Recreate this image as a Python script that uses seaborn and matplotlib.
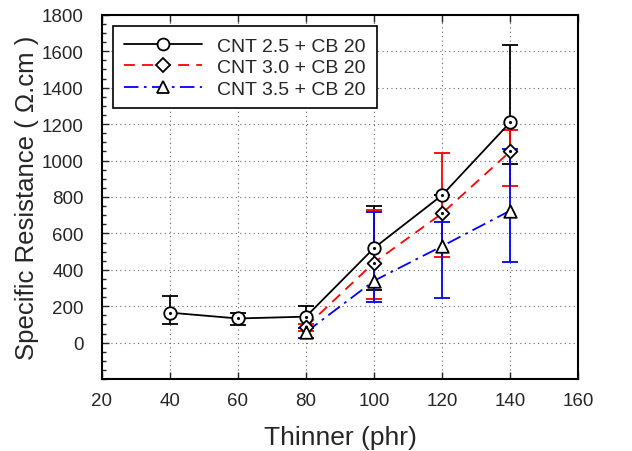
import numpy as np
import pandas as pd
import seaborn as sns
import matplotlib.pyplot as plt
from matplotlib.lines import Line2D
from matplotlib.ticker import MultipleLocator

# values
labels = ["CNT 2.5 + CB 20", "CNT 3.0 + CB 20", "CNT 3.5 + CB 20"]
x_25 = [40, 60, 80, 100, 120, 140]
y_25 = [165, 133, 143, 520, 810, 1210]
lo_25 = [60, 35, 60, 230, 0, 227]
hi_25 = [90, 32, 60, 230, 0, 425]

x_30 = [80, 100, 120, 140]
y_30 = [88, 440, 710, 1050]
lo_30 = [25, 200, 240, 188]
hi_30 = [15, 290, 334, 116]

x_35 = [80, 100, 120, 140]
y_35 = [58, 340, 530, 725]
lo_35 = [30, 114, 287, 283]
hi_35 = [25, 380, 133, 341]

colors = ["black", "red", "blue"]
dashes = ["-", (0, (6, 4)), (0, (8, 3, 1.5, 3))]
markers = ["o", "D", "^"]
msizes = [9, 7, 9]

sns.set_style("ticks")
plt.rcParams['font.family'] = ['Liberation Sans', 'DejaVu Sans']

fig = plt.figure(figsize=(6.32, 4.52), dpi=100)
ax = fig.add_axes([0.161, 0.159, 0.754, 0.806])

series = [(x_25, y_25, lo_25, hi_25), (x_30, y_30, lo_30, hi_30), (x_35, y_35, lo_35, hi_35)]
handles = []
for i, (xs, ys, lo, hi) in enumerate(series):
    df = pd.DataFrame({"x": xs, "y": ys})
    ax.errorbar(df["x"], df["y"], yerr=[lo, hi], fmt="none", ecolor=colors[i],
                elinewidth=1.3, capsize=6, capthick=1.3, zorder=2)
    sns.lineplot(data=df, x="x", y="y", ax=ax, color=colors[i], linestyle=dashes[i],
                 linewidth=1.3, zorder=3, legend=False)
    sns.scatterplot(data=df, x="x", y="y", ax=ax, marker=markers[i], s=msizes[i] ** 2,
                    facecolor="white", edgecolor="black", linewidth=1.3, zorder=4, legend=False)
    if markers[i] != "^":
        ax.plot(df["x"], df["y"], ".", color="black", markersize=2.5, zorder=5)
    handles.append(Line2D([], [], color=colors[i], linestyle=dashes[i], linewidth=1.3,
                          marker=markers[i], markersize=msizes[i] * 0.95,
                          markerfacecolor="white", markeredgecolor="black", markeredgewidth=1.3))

ax.set_xlim(20, 160)
ax.set_ylim(-200, 1800)
ax.xaxis.set_major_locator(MultipleLocator(20))
ax.yaxis.set_minor_locator(MultipleLocator(50))
ax.set_yticks([0, 200, 400, 600, 800, 1000, 1200, 1400, 1600, 1800])
ax.grid(True, which="major", linestyle=(0, (1, 3)), color="#666666", linewidth=0.8)
ax.tick_params(axis="both", which="major", direction="in", length=5, width=1, labelsize=13.5,
               top=True, right=False)
ax.tick_params(axis="x", which="major", pad=9)
ax.tick_params(axis="y", which="major", pad=13)
ax.tick_params(axis="y", which="minor", direction="in", length=3, width=1, left=True, right=False)
for sp in ax.spines.values():
    sp.set_linewidth(1.5)
    sp.set_color("black")

ax.set_xlabel("Thinner (phr)", fontsize=19, labelpad=12)
ax.set_ylabel("Specific Resistance ( Ω.cm )", fontsize=18.5, labelpad=2)

leg = ax.legend(handles, labels, loc="upper left", fontsize=14, frameon=True, fancybox=False,
                edgecolor="black", handlelength=4.0, handletextpad=0.8, borderpad=0.55,
                labelspacing=0.2, bbox_to_anchor=(0.0, 1.0), borderaxespad=0.6)
leg.get_frame().set_linewidth(1.2)
leg.get_frame().set_alpha(1)

fig.savefig("out.png", dpi=100, facecolor="white")
